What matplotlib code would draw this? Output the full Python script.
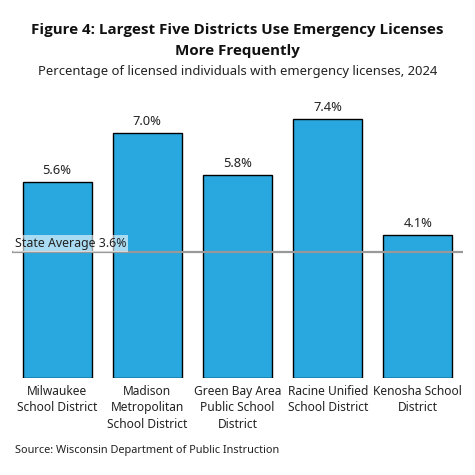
import matplotlib.pyplot as plt

districts = [
    "Milwaukee\nSchool District",
    "Madison\nMetropolitan\nSchool District",
    "Green Bay Area\nPublic School\nDistrict",
    "Racine Unified\nSchool District",
    "Kenosha School\nDistrict",
]
pct = [5.6, 7.0, 5.8, 7.4, 4.1]
state_avg = 3.6

plt.rcParams['font.family'] = ['Noto Sans', 'DejaVu Sans']

fig = plt.figure(figsize=(4.75, 4.75), dpi=100)
# axes placed in pixel terms: x 12..463, y (from top) 98..378
ax = fig.add_axes([12 / 475, (475 - 378) / 475, 451 / 475, 280 / 475])

x = range(len(pct))
ax.bar(x, pct, width=0.765, color="#29a7df", edgecolor="black", linewidth=1.0, zorder=2)
for xi, v in zip(x, pct):
    ax.text(xi, v + 0.13, f"{v:.1f}%", ha="center", va="bottom", fontsize=9.3, color="#222222")

ax.axhline(state_avg, color="#999999", linewidth=1.6, zorder=3)
ax.text(-0.47, state_avg + 0.06, f"State Average {state_avg}%", ha="left", va="bottom",
        fontsize=8.9, color="#222222", zorder=4,
        bbox=dict(facecolor="white", alpha=0.6, edgecolor="none", pad=1.5))

ax.set_xlim(-0.5, 4.5)
ax.set_ylim(0, 8)
ax.set_xticks(list(x))
ax.set_xticklabels(districts, fontsize=8.6, color="#222222", linespacing=1.35)
ax.tick_params(axis="x", length=0, pad=5)
ax.set_yticks([])
for s in ax.spines.values():
    s.set_visible(False)

title_font = ['Open Sans', 'DejaVu Sans']
fig.text(0.5, 1 - 30 / 475, "Figure 4: Largest Five Districts Use Emergency Licenses",
         ha="center", va="center", fontsize=10.9, fontweight="bold", color="#111111",
         family=title_font)
fig.text(0.5, 1 - 51 / 475, "More Frequently",
         ha="center", va="center", fontsize=10.9, fontweight="bold", color="#111111",
         family=title_font)
fig.text(0.5, 1 - 71 / 475, "Percentage of licensed individuals with emergency licenses, 2024",
         ha="center", va="center", fontsize=9.4, color="#222222")
fig.text(15 / 475, 1 - 451 / 475, "Source: Wisconsin Department of Public Instruction",
         ha="left", va="center", fontsize=7.9, color="#222222")

fig.savefig("out.png", dpi=100, facecolor="white")
